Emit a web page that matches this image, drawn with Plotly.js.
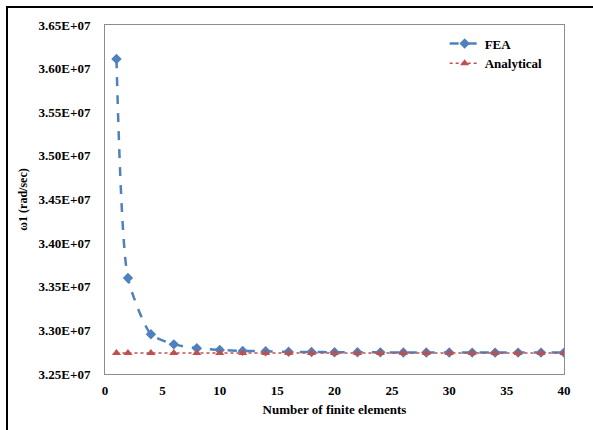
<!DOCTYPE html>
<html>
<head>
<meta charset="utf-8">
<script src="https://cdn.plot.ly/plotly-3.0.1.min.js"></script>
<style>
  html, body { margin: 0; padding: 0; background: #fff; }
  #wrap { position: relative; width: 593px; height: 430px; overflow: hidden; }
  #chart { position: absolute; left: 0; top: 0; width: 593px; height: 430px; }
  #frame { position: absolute; left: 6px; top: 6px; width: 620px; height: 460px;
           border-left: 2px solid #000; border-top: 2px solid #000; pointer-events: none; }
</style>
</head>
<body>
<div id="wrap"><div id="chart"></div><div id="frame"></div></div>
<script>
const elements = [1, 2, 4, 6, 8, 10, 12, 14, 16, 18, 20, 22, 24, 26, 28, 30, 32, 34, 36, 38, 40];
const feaValues = [3.611e7, 3.360e7, 3.2955e7, 3.2840e7, 3.2795e7, 3.2775e7, 3.2765e7, 3.2760e7,
  3.2755e7, 3.2752e7, 3.2750e7, 3.2749e7, 3.2748e7, 3.2747e7, 3.2746e7, 3.2746e7, 3.2745e7,
  3.2745e7, 3.2745e7, 3.2745e7, 3.2745e7];
const analyticalValues = [3.274e7, 3.274e7, 3.274e7, 3.274e7, 3.274e7, 3.274e7, 3.274e7, 3.274e7,
  3.274e7, 3.274e7, 3.274e7, 3.274e7, 3.274e7, 3.274e7, 3.274e7, 3.274e7, 3.274e7, 3.274e7,
  3.274e7, 3.274e7, 3.274e7];
const yTickVals = [3.25e7, 3.30e7, 3.35e7, 3.40e7, 3.45e7, 3.50e7, 3.55e7, 3.60e7, 3.65e7];
const yTickText = ["3.25E+07", "3.30E+07", "3.35E+07", "3.40E+07", "3.45E+07", "3.50E+07", "3.55E+07", "3.60E+07", "3.65E+07"];
const xTickVals = [0, 5, 10, 15, 20, 25, 30, 35, 40];
const xTickText = ["0", "5", "10", "15", "20", "25", "30", "35", "40"];

const font = "Liberation Serif, Times New Roman, serif";
const bold = s => "<b>" + s + "</b>";

const traces = [
  {
    x: elements, y: feaValues, name: bold("FEA"), type: "scatter", mode: "lines+markers",
    line: { color: "#4F81BD", width: 2.5, dash: "dash", shape: "spline", smoothing: 0.6 },
    marker: { symbol: "diamond", size: 8, color: "#4F81BD" }
  },
  {
    x: elements, y: analyticalValues, name: bold("Analytical"), type: "scatter", mode: "lines+markers",
    line: { color: "#C0504D", width: 1.5, dash: "dot" },
    marker: { symbol: "triangle-up", size: 8, color: "#C0504D" }
  }
];

const layout = {
  width: 593, height: 430,
  margin: { l: 105, r: 29, t: 25, b: 56 },
  paper_bgcolor: "rgba(0,0,0,0)", plot_bgcolor: "#fff",
  font: { family: font, color: "#000" },
  showlegend: true,
  legend: {
    x: 0.74, y: 0.99, xanchor: "left", yanchor: "top",
    font: { family: font, size: 13, color: "#000" },
    bgcolor: "rgba(0,0,0,0)", tracegroupgap: 0
  },
  xaxis: {
    range: [0, 40], tickvals: xTickVals, ticktext: xTickText.map(bold), ticks: "", showgrid: false, zeroline: false,
    showline: true, linecolor: "#8c8c8c", linewidth: 1, mirror: true, ticklabelstandoff: 4,
    tickfont: { family: font, size: 13, color: "#000" },
    title: { text: bold("Number of finite elements"), font: { family: font, size: 13, color: "#000" }, standoff: 8 }
  },
  yaxis: {
    range: [3.25e7, 3.65e7], tickvals: yTickVals, ticktext: yTickText.map(bold), ticks: "", showgrid: false, zeroline: false,
    showline: true, linecolor: "#8c8c8c", linewidth: 1, mirror: true, ticklabelstandoff: 11,
    tickfont: { family: font, size: 13, color: "#000" },
    title: { text: bold("ω1 (rad/sec)"), font: { family: font, size: 12, color: "#000" }, standoff: 8 }
  }
};

Plotly.newPlot("chart", traces, layout, { displayModeBar: false, staticPlot: true });
</script>
</body>
</html>
